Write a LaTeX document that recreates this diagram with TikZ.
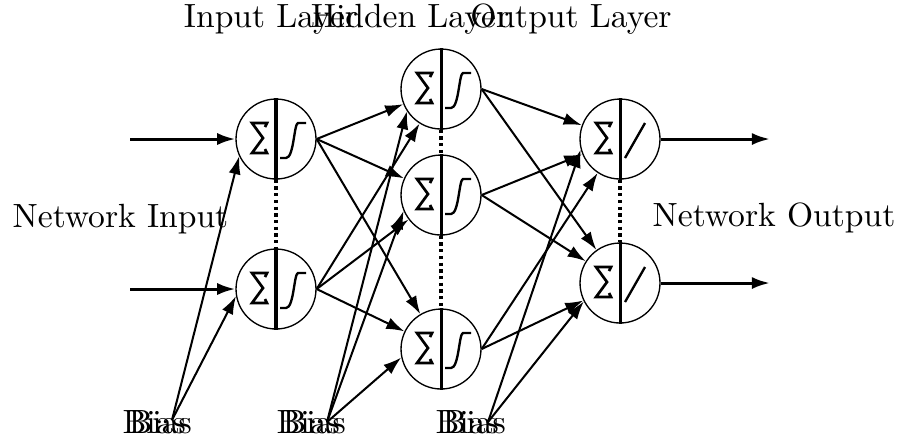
\documentclass[tikz,border=0pt]{standalone}
\usepackage{tikz}
\usetikzlibrary{arrows.meta, positioning}

\tikzset{
    neuron/.style={circle, draw, line width=0.4pt, minimum size=0.837cm, inner sep=0pt},
    conn/.style={->, line width=0.6pt},
    iolink/.style={->, line width=0.9pt},
    txtlabel/.style={anchor=base, inner sep=0pt},
    biaslabel/.style={anchor=base west, inner sep=0pt},
}

\begin{document}
\begin{tikzpicture}[x=0.01046cm, y=-0.01046cm, >={Latex[length=5.4pt,width=3.6pt]}]
    \useasboundingbox (0,0) rectangle (904,442);

    % 1. Neurons
    \node[neuron] (I1) at (276,139) {};
    \node[neuron] (I2) at (276,289) {};
    \node[neuron] (H1) at (441,89) {};
    \node[neuron] (H2) at (441,195) {};
    \node[neuron] (H3) at (441,349) {};
    \node[neuron] (O1) at (620,139) {};
    \node[neuron] (O2) at (620,283) {};

    % 2. Sum sign and divider in each neuron
    \foreach \n in {I1,I2,H1,H2,H3,O1,O2}{
        \draw[line width=0.9pt] (\n.north) -- (\n.south);
        \draw[line width=0.8pt] ([shift={(-11,-12)}]\n.center) -- ++(2,-4) -- ++(-15,0)
            -- ++(11,15) -- ++(-11,15) -- ++(15,0) -- ++(-2,-4);
    }
    % sigmoid / linear activation
    \foreach \n in {I1,I2,H1,H2,H3}
        \draw[line width=0.7pt] ([shift={(4,19)}]\n.center) -- ++(6,0)
            .. controls +(8,0) and +(-4,0) .. ++(12,-35) -- ++(8,0);
    \foreach \n in {O1,O2}
        \draw[line width=0.7pt] ([shift={(5,19)}]\n.center) -- ++(20,-35);

    % 3. Dotted links inside a layer
    \draw[line width=1pt, densely dotted] (I1.south) -- (I2.north);
    \draw[line width=1pt, densely dotted] (H1.south) -- (H2.north);
    \draw[line width=1pt, densely dotted] (H2.south) -- (H3.north);
    \draw[line width=1pt, densely dotted] (O1.south) -- (O2.north);

    % 4. Connections between layers
    \foreach \s in {I1,I2}
        \foreach \t in {H1,H2,H3}
            \draw[conn] (\s.east) -- (\t);
    \foreach \s in {H1,H2,H3}
        \foreach \t in {O1,O2}
            \draw[conn] (\s.east) -- (\t);

    % 5. Network input and output
    \coordinate (in1) at (130,139);
    \coordinate (in2) at (130,289);
    \coordinate (out1) at (770,139);
    \coordinate (out2) at (770,283);
    \draw[iolink] (in1) -- (I1);
    \draw[iolink] (in2) -- (I2);
    \draw[iolink] (O1) -- (out1);
    \draw[iolink] (O2) -- (out2);

    % 6. Bias
    \coordinate (b1) at (172,420);
    \coordinate (b2) at (327,422);
    \coordinate (b3) at (488,422);
    \node[biaslabel] (b1x) at (122,433) {Bias};
    \node[biaslabel] (b1y) at (128,433) {Bias};
    \node[biaslabel] (b2x) at (276,433) {Bias};
    \node[biaslabel] (b2y) at (282,433) {Bias};
    \node[biaslabel] (b3x) at (435,433) {Bias};
    \node[biaslabel] (b3y) at (442,433) {Bias};
    \draw[conn] (b1) -- (I1.205);
    \draw[conn] (b1) -- (I2.190);
    \draw[conn] (b2) -- (H1.213);
    \draw[conn] (b2) -- (H2.203);
    \draw[conn] (b2) -- (H3.192);
    \draw[conn] (b3) -- (O1.195);
    \draw[conn] (b3) -- (O2.207);

    % 7. Labels
    \node[txtlabel] (linput) at (271,27) {Input Layer};
    \node[txtlabel] (lhidden) at (410,27) {Hidden Layer};
    \node[txtlabel] (loutput) at (571,27) {Output Layer};
    \node[biaslabel] (netin) at (12,227) {Network Input};
    \node[biaslabel] (netout) at (652,226) {Network Output};
\end{tikzpicture}
\end{document}
